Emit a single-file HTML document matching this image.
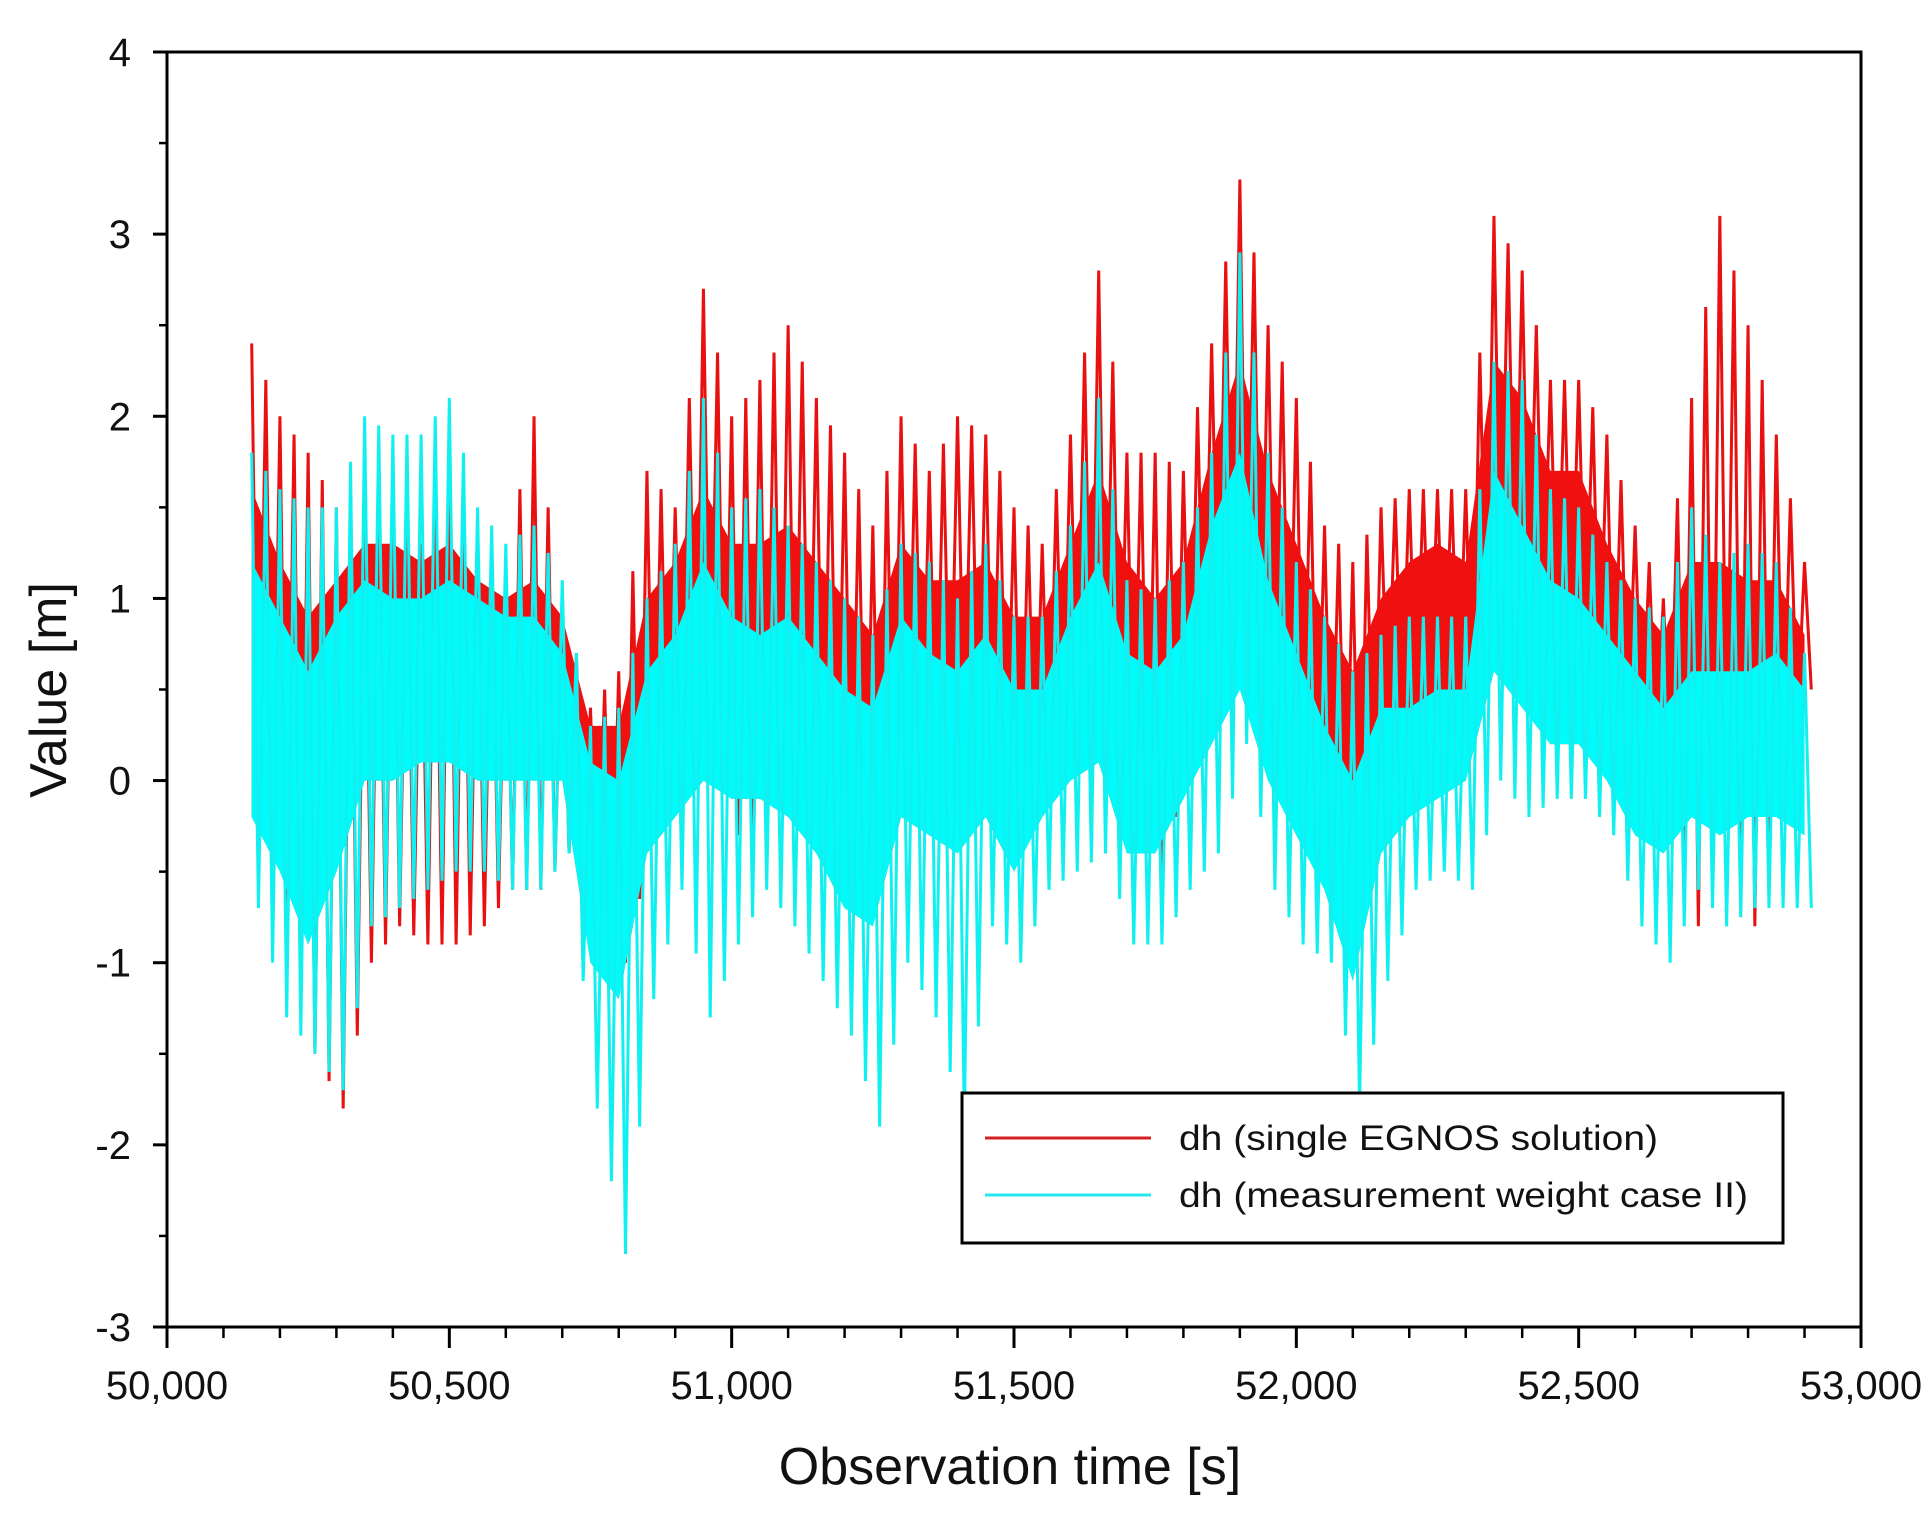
<!DOCTYPE html>
<html><head><meta charset="utf-8"><style>
html,body{margin:0;padding:0;background:#fff}
svg{display:block;font-family:"Liberation Sans",sans-serif}
</style></head><body>
<svg id="chart" width="1930" height="1514" viewBox="0 0 1930 1514">
<g id="series"></g>
<g id="axes"></g>
<text x="1010" y="1484" font-size="52" text-anchor="middle" fill="#111">Observation time [s]</text>
<text transform="translate(66,690) rotate(-90)" font-size="52" text-anchor="middle" fill="#111">Value [m]</text>
<g>
<rect x="962" y="1093" width="821" height="150" fill="#fff" stroke="#000" stroke-width="3"/>
<line x1="985" y1="1138" x2="1151" y2="1138" stroke="#d42020" stroke-width="3"/>
<text x="1179" y="1150" font-size="35" textLength="479" lengthAdjust="spacingAndGlyphs" fill="#111">dh (single EGNOS solution)</text>
<line x1="985" y1="1195" x2="1151" y2="1195" stroke="#22e8ee" stroke-width="3"/>
<text x="1179" y="1207" font-size="35" textLength="569" lengthAdjust="spacingAndGlyphs" fill="#111">dh (measurement weight case II)</text>
</g>
</svg>
<script>
const times=[50150,50200,50250,50300,50350,50400,50450,50500,50550,50600,50650,50700,50750,50800,50850,50900,50950,51000,51050,51100,51150,51200,51250,51300,51350,51400,51450,51500,51550,51600,51650,51700,51750,51800,51850,51900,51950,52000,52050,52100,52150,52200,52250,52300,52350,52400,52450,52500,52550,52600,52650,52700,52750,52800,52850,52900];
const redHi=[2.4,2.0,1.8,1.5,1.5,1.7,1.3,1.9,1.4,1.2,2.0,1.0,0.4,0.6,1.7,1.5,2.7,2.0,2.2,2.5,2.1,1.8,1.4,2.0,1.7,2.0,1.9,1.5,1.3,1.9,2.8,1.8,1.8,1.7,2.4,3.3,2.5,2.1,1.4,1.2,1.5,1.6,1.6,1.6,3.1,2.8,2.2,2.2,1.9,1.4,1.0,2.1,3.1,2.5,1.9,1.2];
const redLo=[-0.3,-0.7,-1.5,-1.8,-1.0,-0.8,-0.9,-0.9,-0.8,-0.6,-0.6,-0.4,-0.8,-1.0,-0.3,0.0,0.3,-0.3,-0.2,0.0,-0.2,-0.4,-0.5,0.0,0.0,0.2,0.1,-0.2,0.0,0.3,0.3,0.0,-0.6,0.2,0.7,0.7,0.4,0.0,-0.2,-0.6,0.3,0.4,0.5,0.3,1.0,0.9,0.8,0.7,0.3,0.2,0.1,-0.8,0.0,-0.8,0.1,0.5];
const redCoreHi=[1.6,1.2,0.9,1.1,1.3,1.3,1.2,1.3,1.1,1.0,1.1,0.9,0.3,0.3,1.0,1.2,1.6,1.3,1.3,1.4,1.2,1.0,0.8,1.3,1.1,1.1,1.2,0.9,0.9,1.3,1.7,1.2,1.0,1.2,1.8,2.3,1.7,1.3,0.9,0.6,1.0,1.2,1.3,1.2,2.3,2.1,1.7,1.7,1.3,1.0,0.8,1.2,1.2,1.1,1.1,0.8];
const cyanHi=[1.8,1.6,1.5,1.5,2.0,1.9,1.9,2.1,1.5,1.3,1.4,1.1,0.3,0.4,1.0,1.3,2.1,1.5,1.6,1.4,1.2,1.0,0.8,1.3,1.2,1.0,1.3,0.9,0.9,1.4,2.1,1.1,1.0,1.2,1.8,2.9,1.8,1.2,0.9,0.6,0.8,0.9,0.9,0.9,2.3,2.2,1.6,1.5,1.2,1.0,0.9,1.5,1.2,1.3,1.2,0.7];
const cyanLo=[-0.7,-1.3,-1.5,-1.7,-0.8,-0.7,-0.6,-0.5,-0.5,-0.6,-0.6,-0.4,-1.8,-2.6,-1.2,-0.6,-1.3,-0.9,-0.6,-0.8,-1.1,-1.4,-1.9,-1.0,-1.3,-1.9,-0.8,-1.0,-0.6,-0.5,-0.4,-0.9,-0.9,-0.6,-0.4,0.2,-0.6,-0.9,-1.0,-1.8,-1.1,-0.6,-0.5,-0.6,0.0,-0.2,-0.1,-0.1,-0.3,-0.8,-1.0,-0.6,-0.8,-0.7,-0.7,-0.7];
const cyanCoreHi=[1.2,0.9,0.6,0.9,1.1,1.0,1.0,1.1,1.0,0.9,0.9,0.7,0.1,0.0,0.6,0.8,1.2,0.9,0.8,0.9,0.7,0.5,0.4,0.9,0.7,0.6,0.8,0.5,0.5,0.9,1.2,0.7,0.6,0.8,1.4,1.8,1.1,0.7,0.3,0.0,0.4,0.4,0.5,0.5,1.7,1.4,1.1,1.0,0.8,0.6,0.4,0.6,0.6,0.6,0.7,0.5];
const cyanCoreLo=[-0.2,-0.5,-0.9,-0.5,0.0,0.0,0.1,0.1,0.0,0.0,0.0,0.0,-1.0,-1.2,-0.4,-0.2,0.0,-0.1,-0.1,-0.2,-0.4,-0.7,-0.8,-0.2,-0.3,-0.4,-0.2,-0.5,-0.2,0.0,0.1,-0.4,-0.4,-0.1,0.2,0.5,0.0,-0.3,-0.6,-1.1,-0.4,-0.2,-0.1,0.0,0.6,0.4,0.2,0.2,0.0,-0.3,-0.4,-0.2,-0.3,-0.2,-0.2,-0.3];
const yTicks=[-3,-2,-1,0,1,2,3,4];
const yTickLabels=["-3","-2","-1","0","1","2","3","4"];
const xTicks=[50000,50500,51000,51500,52000,52500,53000];
const xTickLabels=["50,000","50,500","51,000","51,500","52,000","52,500","53,000"];

const X0=167,X1=1861,Y0=52,Y1=1327;
const xS=t=>X0+(t-50000)/3000*(X1-X0);
const yS=v=>Y1-(v+3)/7*(Y1-Y0);
const NS="http://www.w3.org/2000/svg";
const ser=document.getElementById('series'), ax=document.getElementById('axes');
function mk(tag,attrs,parent){const e=document.createElementNS(NS,tag);for(const k in attrs)e.setAttribute(k,attrs[k]);parent.appendChild(e);return e;}

function band(hi,lo,color,name){
  let pts=[];
  for(let i=0;i<times.length;i++)pts.push(xS(times[i])+','+yS(hi[i]));
  for(let i=times.length-1;i>=0;i--)pts.push(xS(times[i])+','+yS(lo[i]));
  const p=mk('polygon',{points:pts.join(' '),fill:color},ser);
  
  
}
function zig(hi,lo,color,name,w){
  let pts=[];
  for(let i=0;i<times.length;i++){
    pts.push(xS(times[i])+','+yS(hi[i]));
    pts.push(xS(times[i]+12)+','+yS(lo[i]));
    if(i<times.length-1){
      pts.push(xS(times[i]+25)+','+yS((hi[i]+hi[i+1])/2));
      pts.push(xS(times[i]+37)+','+yS((lo[i]+lo[i+1])/2));
    }
  }
  const p=mk('polyline',{points:pts.join(' '),fill:'none',stroke:color,'stroke-width':w,'stroke-linejoin':'miter'},ser);
  
  
}
zig(redHi,redLo,'#e81010','red-series-spikes',3);
band(redCoreHi,cyanCoreLo,'#f01010','red-series-core');
band(cyanCoreHi,cyanCoreLo,'#00fbfb','cyan-series-core');
zig(cyanHi,cyanLo,'#10f0f0','cyan-series-spikes',3);

const fr=mk('rect',{x:X0,y:Y0,width:X1-X0,height:Y1-Y0,fill:'none',stroke:'#000','stroke-width':3},ax);


for(let i=0;i<yTicks.length;i++){
  const y=yS(yTicks[i]);
  const l=mk('line',{x1:X0-14,y1:y,x2:X0,y2:y,stroke:'#000','stroke-width':3},ax);
  
  
  const t=mk('text',{x:X0-36,y:y+14,'font-size':40,'text-anchor':'end',fill:'#111'},ax);
  t.textContent=yTickLabels[i];
  
  
  if(i<yTicks.length-1){
    const ym=yS(yTicks[i]+0.5);
    const m=mk('line',{x1:X0-8,y1:ym,x2:X0,y2:ym,stroke:'#000','stroke-width':2.5},ax);
    
    
  }
}
for(let i=0;i<xTicks.length;i++){
  const x=xS(xTicks[i]);
  const l=mk('line',{x1:x,y1:Y1,x2:x,y2:Y1+21,stroke:'#000','stroke-width':3},ax);
  
  
  const t=mk('text',{x:x,y:Y1+72,'font-size':40,'text-anchor':'middle',fill:'#111'},ax);
  t.textContent=xTickLabels[i];
  
  
  if(i<xTicks.length-1){
    for(let k=1;k<5;k++){
      const xm=xS(xTicks[i]+k*100);
      const m=mk('line',{x1:xm,y1:Y1,x2:xm,y2:Y1+11,stroke:'#000','stroke-width':2.5},ax);
      
      
    }
  }
}
</script>
</body></html>
